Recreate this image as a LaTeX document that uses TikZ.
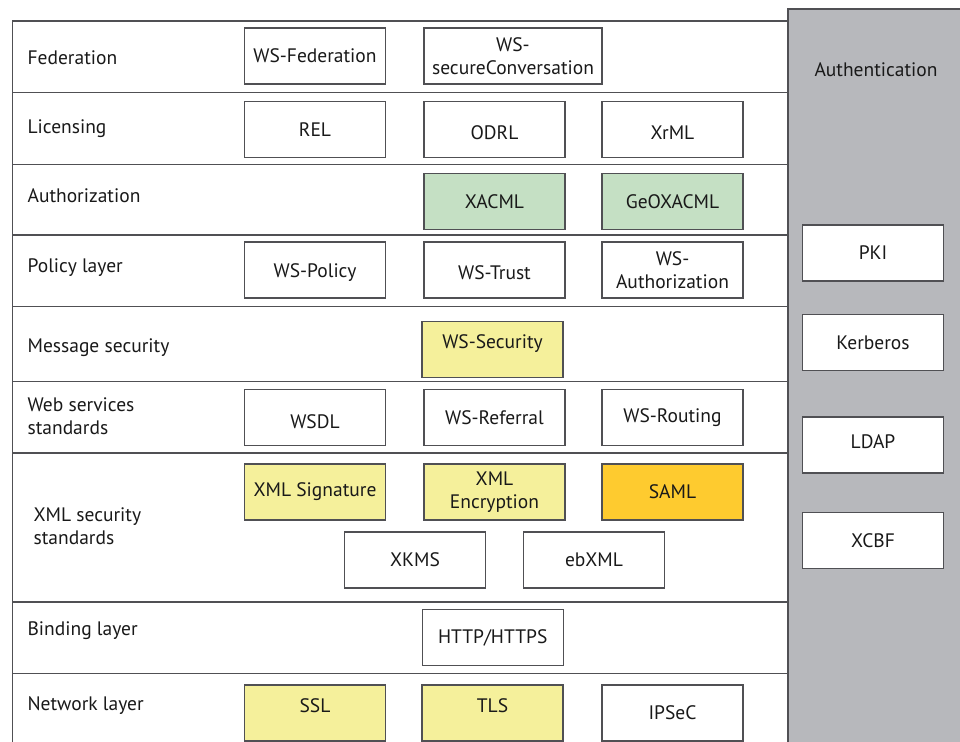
\documentclass[tikz,border=0pt]{standalone}
\usepackage{fontspec}
\setmainfont{PT Sans}
\usepackage{tikz}

\definecolor{framegray}{RGB}{80,80,84}
\definecolor{authgray}{RGB}{183,184,188}
\definecolor{xgreen}{RGB}{197,224,196}
\definecolor{xyellow}{RGB}{245,240,155}
\definecolor{xorange}{RGB}{254,203,47}

\newcommand{\lift}[2]{\raisebox{#1}[\height][\depth]{#2}}

\begin{document}
\begin{tikzpicture} [x=1pt, y=-1pt, line width=1.2pt,
	every node/.style={font=\fontsize{19.5}{23.5}\selectfont, text=black!90},
	box/.style={draw=framegray, fill=white, minimum width=141pt, minimum height=56pt, inner sep=0pt, align=center},
	greenbox/.style={box, fill=xgreen},
	yellowbox/.style={box, fill=xyellow},
	orangebox/.style={box, fill=xorange},
	layer/.style={anchor=west, align=left, inner sep=0pt}]
	\useasboundingbox (0,0) rectangle (960,741);
	\clip (0,0) rectangle (960,741);

	\fill [white] (0,0) rectangle (960,741);
	\fill [authgray] (788,9) rectangle (970,750);
	\draw [framegray] (788,750) -- (788,9) -- (970,9);
	\draw [framegray] (788,21) -- (12.5,21) -- (12.5,750);
	\foreach \y in {92.7, 164.7, 235, 306.7, 381.3, 453, 602, 673.7}
		\draw [framegray] (12.5,\y) -- (788,\y);

	\node [layer] (federation) at (27,58) {Federation};
	\node [layer] (licensing) at (27,129) {Licensing};
	\node [layer] (authorization) at (27,196) {Authorization};
	\node [layer] (policy) at (27,268) {Policy layer};
	\node [layer] (message) at (27,348) {Message security};
	\node [layer] (webservices) at (27,416) {Web services\\standards};
	\node [layer] (xmlsecurity) at (33,526) {XML security\\standards};
	\node [layer] (binding) at (27,631) {Binding layer};
	\node [layer] (network) at (27,706) {Network layer};

	\node [box] (wsfed) at (315,56) {WS-Federation};
	\node [box, minimum width=178pt] (wssc) at (513,56) {WS-\\secureConversation};
	\node [box] (rel) at (315,129.5) {REL};
	\node [box] (odrl) at (494.5,129.5) {\lift{-3pt}{ODRL}};
	\node [box] (xrml) at (672.5,129.5) {\lift{-3pt}{XrML}};
	\node [greenbox] (xacml) at (494.5,201.3) {XACML};
	\node [greenbox] (geoxacml) at (672.5,201.3) {GeOXACML};
	\node [box] (wspolicy) at (315,270) {\lift{-3pt}{WS-Policy}};
	\node [box] (wstrust) at (494.5,270) {\lift{-3pt}{WS-Trust}};
	\node [box] (wsauth) at (672.5,270) {WS-\\Authorization};
	\node [yellowbox] (wssec) at (492.5,349.3) {\lift{6pt}{WS-Security}};
	\node [box] (wsdl) at (315,417.3) {\lift{-4pt}{WSDL}};
	\node [box] (wsref) at (494.5,417.3) {WS-Referral};
	\node [box] (wsrout) at (672.5,417.3) {WS-Routing};
	\node [yellowbox] (xmlsig) at (315,492) {XML Signature};
	\node [yellowbox] (xmlenc) at (494.5,492) {XML\\Encryption};
	\node [orangebox] (saml) at (672.5,492) {SAML};
	\node [box] (xkms) at (415,560) {XKMS};
	\node [box] (ebxml) at (594,560) {ebXML};
	\node [box] (http) at (492.7,637.7) {HTTP/HTTPS};
	\node [yellowbox] (ssl) at (315,713) {\lift{7pt}{SSL}};
	\node [yellowbox] (tls) at (492.5,713) {\lift{7pt}{TLS}};
	\node [box] (ipsec) at (672.5,713) {IPSeC};

	\node (authentication) at (876,70) {Authentication};
	\node [box] (pki) at (873,253) {PKI};
	\node [box] (kerberos) at (873,342.5) {Kerberos};
	\node [box] (ldap) at (873,445) {\lift{3pt}{LDAP}};
	\node [box] (xcbf) at (873,540.7) {XCBF};
\end{tikzpicture}
\end{document}
